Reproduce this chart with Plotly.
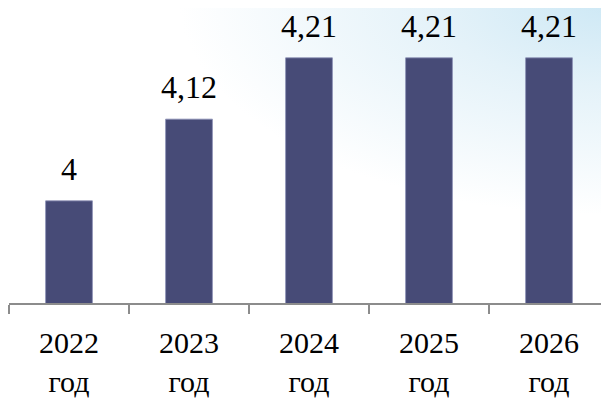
import base64
import plotly.graph_objects as go

years = ["2022", "2023", "2024", "2025", "2026"]
suffix = "год"
values = [4.0, 4.12, 4.21, 4.21, 4.21]

categories = [f"{y}<br>{suffix}" for y in years]
labels = [f"{v:g}".replace(".", ",") for v in values]

FONT = "Liberation Serif"

# page body has an 8px default margin; size the figure to fill the rest of the window
W, H = 601, 393
ml, mr, mt, mb = 1, 0, 0, 98
pw, ph = W - ml - mr, H - mt - mb

svg = f"""<svg xmlns='http://www.w3.org/2000/svg' width='{W}' height='{H}' viewBox='0 0 {W} {H}' preserveAspectRatio='none'>
<defs><radialGradient id='g' cx='{W}' cy='-8' r='430' gradientUnits='userSpaceOnUse' gradientTransform='translate({W} -8) scale(1 0.5) translate(-{W} 8)'>
<stop offset='0' stop-color='#cde8f5'/><stop offset='0.4' stop-color='#e4f2f9'/><stop offset='1' stop-color='#ffffff'/></radialGradient></defs>
<rect width='{W}' height='{H}' fill='url(#g)'/></svg>"""
src = "data:image/svg+xml;base64," + base64.b64encode(svg.encode()).decode()

fig = go.Figure(go.Bar(
    x=categories, y=values,
    marker=dict(color="#474B77", line=dict(color="#8a8fb5", width=0.8)),
    width=0.39, cliponaxis=False, hoverinfo="skip",
))

# value labels above the bars
for c, v, t in zip(categories, values, labels):
    fig.add_annotation(x=c, y=v, xref="x", yref="y", text=t, showarrow=False,
                       yanchor="bottom", yshift=12,
                       font=dict(family=FONT, size=32, color="#000000"))

# category labels below the axis
for c in categories:
    fig.add_annotation(x=c, y=0, xref="x", yref="paper", text=c, showarrow=False,
                       yanchor="top", yshift=-21,
                       font=dict(family=FONT, size=30, color="#000000"))

fig.update_layout(
    width=W, height=H,
    margin=dict(l=ml, r=mr, t=mt, b=mb),
    paper_bgcolor="#ffffff", plot_bgcolor="rgba(0,0,0,0)",
    showlegend=False,
    font=dict(family=FONT, color="#000000"),
    images=[dict(source=src, xref="paper", yref="paper",
                 x=-ml / pw, y=1 + mt / ph, sizex=W / pw, sizey=H / ph,
                 xanchor="left", yanchor="top", sizing="stretch", layer="below")],
    xaxis=dict(type="category", tickson="boundaries", ticks="outside", ticklen=9,
               tickcolor="#8c8c8c", tickwidth=1.5, showline=True, linecolor="#8c8c8c",
               linewidth=2, showgrid=False, showticklabels=False),
    yaxis=dict(range=[3.85, 3.85 + ph / 681], visible=False, showgrid=False, zeroline=False),
)

fig.write_html("out.html")
